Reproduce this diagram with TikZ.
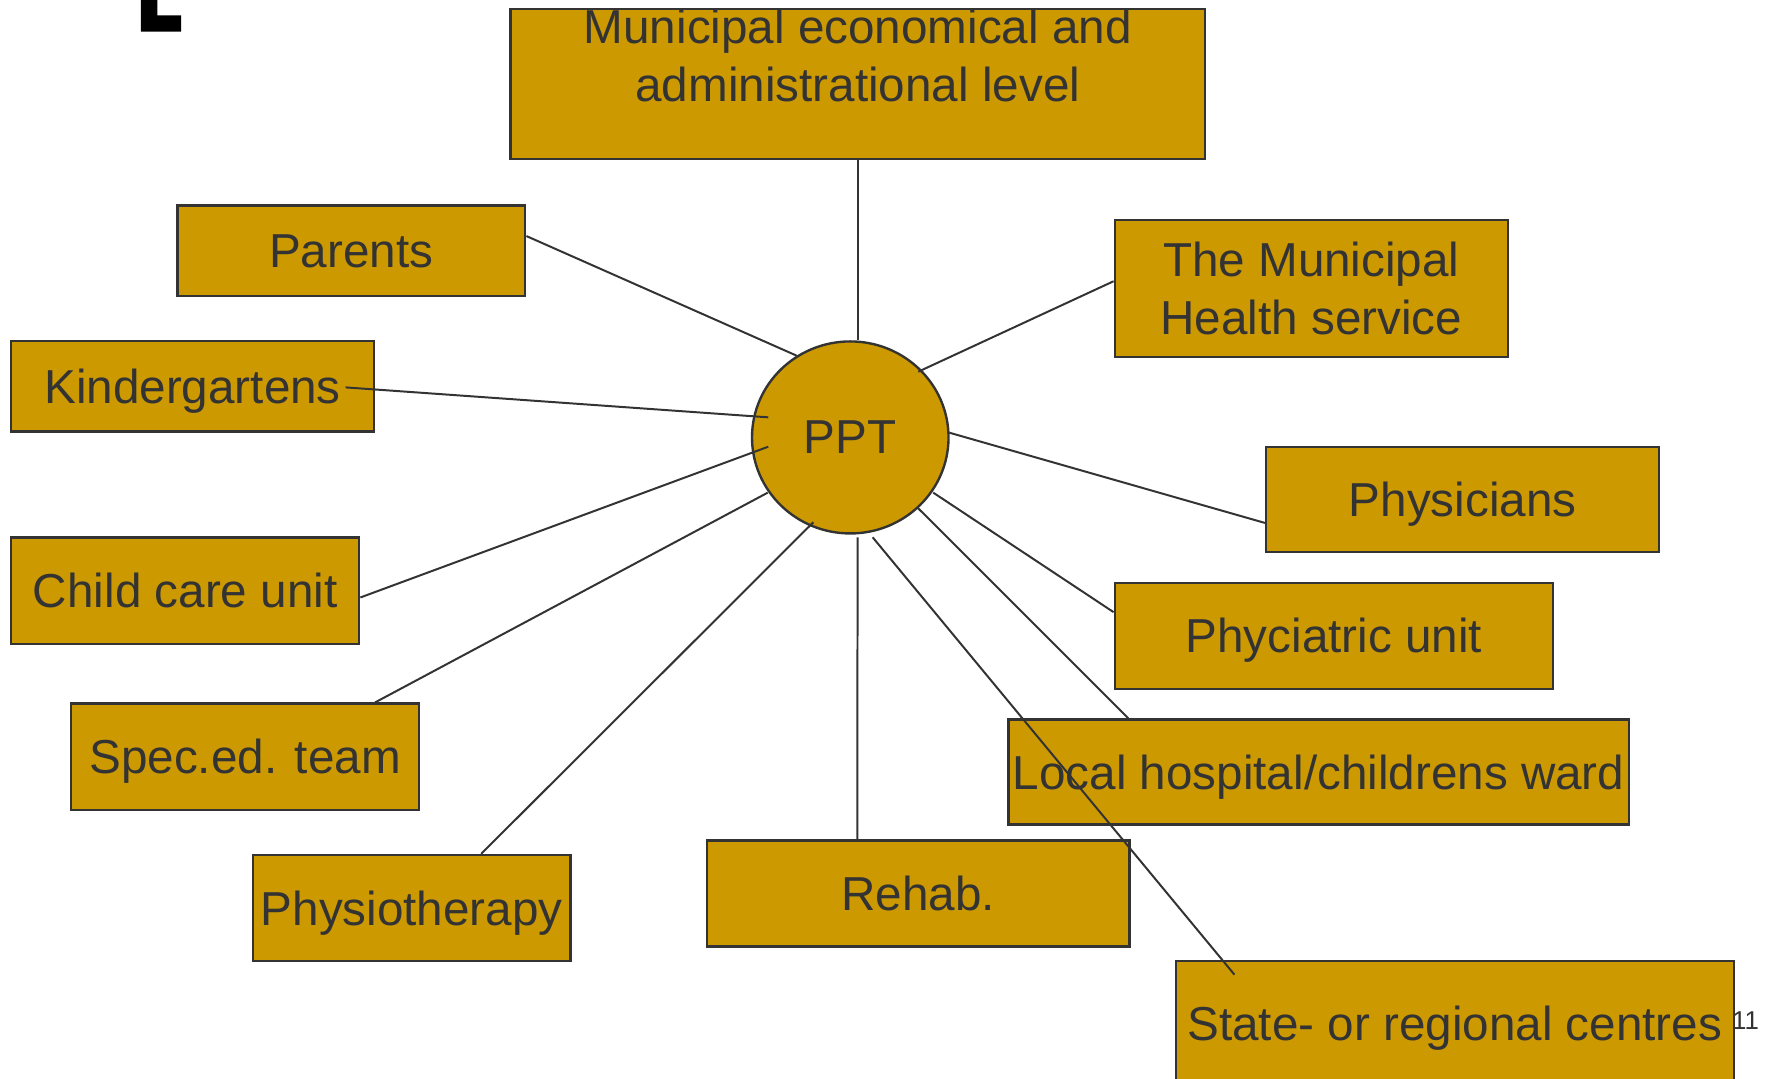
\documentclass[tikz,border=0pt]{standalone}
\usepackage{fontspec}
\setmainfont{Liberation Sans}
\usetikzlibrary{calc,shapes.geometric}
\definecolor{ochre}{HTML}{CC9900}
\definecolor{darkline}{HTML}{333333}
\tikzset{
  unit/.style={draw=darkline, fill=ochre, line width=0.6pt, inner sep=0pt, text=darkline, font=\fontsize{12}{14.5}\selectfont},
  onebox/.style={unit, rectangle, text height=8.6pt, text depth=0pt},
  twobox/.style={unit, rectangle, align=center},
  link/.style={draw=darkline, line width=0.5pt}
}

\begin{document}
\begin{tikzpicture}
  \useasboundingbox (0,0) rectangle (15.68,-9.553);
  \clip (0,0) rectangle (15.68,-9.553);
  % corner mark
  \fill (1.248,0.05) -- (1.393,0.05) -- (1.393,-0.136) -- (1.603,-0.136) -- (1.603,-0.280) -- (1.248,-0.280) -- cycle;
  % centre
  \node[unit, ellipse, minimum width=1.74cm, minimum height=1.70cm] (ppt) at (7.528,-3.873) {PPT};
  % boxes
  \node[twobox, minimum width=6.15cm, minimum height=1.33cm] (muni) at (7.595,-0.745) {Municipal economical and\\administrational level\\\mbox{}};
  \node[onebox, minimum width=3.08cm, minimum height=0.80cm] (parents) at (3.11,-2.22) {Parents};
  \node[onebox, minimum width=3.21cm, minimum height=0.80cm] (kinder) at (1.705,-3.42) {Kindergartens};
  \node[twobox, minimum width=3.48cm, minimum height=1.21cm] (health) at (11.61,-2.555) {The Municipal\\Health service};
  \node[onebox, minimum width=3.48cm, minimum height=0.93cm] (physicians) at (12.95,-4.425) {Physicians};
  \node[onebox, minimum width=3.08cm, minimum height=0.94cm] (childcare) at (1.64,-5.23) {Child care unit};
  \node[onebox, minimum width=3.88cm, minimum height=0.94cm] (psych) at (11.81,-5.63) {Phyciatric unit};
  \node[onebox, minimum width=3.08cm, minimum height=0.94cm] (spec) at (2.17,-6.70) {Spec.ed. team};
  \node[onebox, minimum width=5.49cm, minimum height=0.93cm] (local) at (11.675,-6.835) {Local hospital/childrens ward};
  \node[onebox, minimum width=2.81cm, minimum height=0.94cm] (physio) at (3.645,-8.04) {Physiotherapy};
  \node[onebox, minimum width=3.74cm, minimum height=0.94cm] (rehab) at (8.13,-7.91) {Rehab.};
  \node[onebox, minimum width=4.94cm, minimum height=1.10cm] (state) at (12.88,-9.06) {State- or regional centres};
  \node[text=darkline, font=\fontsize{6.5}{8}\selectfont, inner sep=0pt] (pagenum) at (15.455,-9.04) {11};
  % links
  \draw[link] (muni.south) -- (muni.south |- ppt.north);
  \draw[link] ($(parents.east)+(0,0.13)$) -- ($(ppt.center)+(-0.475,0.724)$);
  \draw[link] ($(kinder.east)+(-0.26,-0.01)$) -- ($(ppt.center)+(-0.726,0.178)$);
  \draw[link] ($(childcare.east)+(0,-0.06)$) -- ($(ppt.center)+(-0.726,-0.082)$);
  \draw[link] ($(spec.north east)+(-0.40,0)$) -- ($(ppt.center)+(-0.731,-0.489)$);
  \draw[link] ($(physio.north east)+(-0.80,0)$) -- ($(ppt.center)+(-0.327,-0.751)$);
  \draw[link] ($(rehab.north)+(-0.54,0)$) -- ($(ppt.center)+(0.065,-0.884)$);
  \draw[link] ($(state.north west)+(0.53,-0.13)$) -- ($(ppt.center)+(0.198,-0.884)$);
  \draw[link] ($(local.north west)+(1.07,0)$) -- ($(ppt.center)+(0.602,-0.628)$);
  \draw[link] ($(psych.west)+(0,0.21)$) -- ($(ppt.center)+(0.735,-0.489)$);
  \draw[link] ($(physicians.west)+(0,-0.205)$) -- ($(ppt.center)+(0.877,0.042)$);
  \draw[link] ($(health.west)+(0,0.065)$) -- ($(ppt.center)+(0.602,0.582)$);
\end{tikzpicture}
\end{document}
